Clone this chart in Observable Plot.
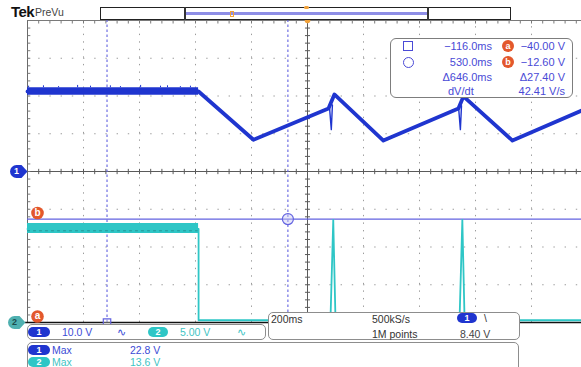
<!DOCTYPE html>
<html>
<head>
<meta charset="utf-8">
<script src="https://cdn.jsdelivr.net/npm/d3@7"></script>
<script src="https://cdn.jsdelivr.net/npm/@observablehq/plot@0.6"></script>
<style>
  html, body { margin: 0; padding: 0; background: #fff; }
  #scope { position: relative; width: 581px; height: 367px; overflow: hidden; background: #fff;
           font-family: "Liberation Sans", Arial, sans-serif; }
  #scope > svg { position: absolute; left: 0; top: 0; overflow: hidden; }
  .abs { position: absolute; white-space: nowrap; line-height: 12px; }
  .box { position: absolute; box-sizing: border-box; border: 1px solid #8d8d8d; border-radius: 5px; background: #fff; }
  .pill { position: absolute; box-sizing: border-box; border-radius: 6px; color: #fff; font-weight: bold;
          font-size: 9px; line-height: 10px; text-align: center; }
</style>
</head>
<body>
<div id="scope"></div>
<script>
// ---------- acquisition data (time in ms, volts) ----------
// Channel 1, 10 V/div: main trace vertices
const ch1Time  = [-400, 211, 407, 675, 696, 871, 1139, 1157, 1332, 1600];
const ch1Volts = [21.2, 21.2, 8.4, 16.7, 20.4, 8.2, 16.7, 19.9, 8.2, 16.8];
// narrow negative glitches just before each peak
const ch1GlitchTime  = [679, 685, 689, 1140, 1146, 1150];
const ch1GlitchVolts = [16.6, 11.1, 17.6, 16.6, 11.1, 17.4];
const ch1GlitchId    = [1, 1, 1, 2, 2, 2];
// noise envelope of the flat section
const ch1BandTime = [-400, 211];
const ch1BandLow  = [20.2, 20.2];
const ch1BandHigh = [22.2, 22.2];
// tallest noise excursions on the flat section
const ch1NoiseTime = [-396, -343, -289, -221, -175, -104, -68, 4, 75, 100, 146, 182];
const ch1NoisePeak = [22.6, 22.7, 22.5, 22.8, 22.6, 22.7, 22.5, 22.8, 22.6, 22.7, 22.5, 22.6];

// Channel 2, 5 V/div
const ch2Time  = [-400, 211, 211, 682, 692, 700, 1143, 1153, 1161, 1600];
const ch2Volts = [12.4, 12.4, 0.3, 0.3, 13.6, 0.3, 0.3, 13.6, 0.3, 0.3];
const ch2BandTime = [-400, 211];
const ch2BandLow  = [11.8, 11.8];
const ch2BandHigh = [13.1, 13.1];

// cursors: square / circle (time), a / b (channel 1 volts)
const cursorTime  = [-116, 530];
const cursorVolts = [-40, -12.6];
const cursorNames = ["a", "b"];

// vertical settings
const ch1VoltsPerDiv = 10;
const ch2VoltsPerDiv = 5;
const ch1GroundDiv = 0;
const ch2GroundDiv = -4;
const ch1ScaleText = "10.0 V";
const ch2ScaleText = "5.00 V";
// horizontal / trigger settings
const timebaseText = "200ms";
const sampleRateText = "500kS/s";
const recordText = "1M points";
const triggerLevelText = "8.40 V";
const timeDomain = [-400, 1600];
const centerTime = 600;

// ---------- colours ----------
const ch1Color = "#1f35cf";
const ch2Color = "#2ec6c6";
const cursorColor = "#6262e0";
const markerOrange = "#e3582c";
const readoutColor = "#4a4ad6";

const toDiv1 = v => v / ch1VoltsPerDiv + ch1GroundDiv;
const toDiv2 = v => v / ch2VoltsPerDiv + ch2GroundDiv;
const zip = (keys, ...cols) => cols[0].map((_, i) => Object.fromEntries(keys.map((k, j) => [k, cols[j][i]])));

const ch1 = zip(["t", "v"], ch1Time, ch1Volts);
const ch1Glitch = zip(["t", "v", "id"], ch1GlitchTime, ch1GlitchVolts, ch1GlitchId);
const ch1Band = zip(["t", "lo", "hi"], ch1BandTime, ch1BandLow, ch1BandHigh);
const ch1Noise = zip(["t", "v"], ch1NoiseTime, ch1NoisePeak);
const ch2 = zip(["t", "v"], ch2Time, ch2Volts);
const ch2Band = zip(["t", "lo", "hi"], ch2BandTime, ch2BandLow, ch2BandHigh);
const cursorLabels = zip(["name", "v"], cursorNames, cursorVolts);

// graticule: 10 x 8 divisions, 5 minor steps per division
const divTimes = d3.range(timeDomain[0], timeDomain[1] + 1, 200);
const divLevels = d3.range(-4, 5, 1);
const minorT = d3.range(timeDomain[0], timeDomain[1] + 1, 40);
const minorV = d3.range(-4, 4.001, 0.2);
const t0 = timeDomain[0];

// channel ground marker: rounded tab pointing right
const tab = {
  draw(ctx) {
    ctx.moveTo(-2, -6.5);
    ctx.lineTo(3, -6.5);
    ctx.lineTo(9, 0);
    ctx.lineTo(3, 6.5);
    ctx.lineTo(-2, 6.5);
    ctx.arc(-2, 0, 6.5, Math.PI / 2, 3 * Math.PI / 2);
    ctx.closePath();
  }
};

const chart = Plot.plot({
  width: 581,
  height: 367,
  margin: 0,
  x: {domain: timeDomain, range: [27, 587], axis: null},
  y: {domain: [-4, 4], range: [322, 20], axis: null},
  style: {background: "transparent", fontFamily: "Liberation Sans, Arial, sans-serif"},
  marks: [
    // dotted division lines
    Plot.ruleX(divTimes.filter(t => t !== t0 && t !== centerTime), {
      x: d => d, y1: () => -4, y2: () => 4, stroke: "#9c9c9c", strokeWidth: 1, strokeDasharray: "1.4,6.15"
    }),
    Plot.ruleY(divLevels.filter(v => Math.abs(v) !== 4 && v !== 0), {
      y: d => d, x1: () => t0, x2: () => timeDomain[1], stroke: "#9c9c9c", strokeWidth: 1.1, strokeDasharray: "1.4,9.8"
    }),
    // centre crosshair with minor ticks
    Plot.ruleX([centerTime], {x: d => d, y1: () => -4, y2: () => 4, stroke: "#5a5a5a"}),
    Plot.ruleY([0], {y: d => d, x1: () => t0, x2: () => timeDomain[1], stroke: "#5a5a5a"}),
    Plot.link(minorT, {x1: d => d, x2: d => d, y1: () => -0.07, y2: () => 0.07, stroke: "#5a5a5a"}),
    Plot.link(minorV, {x1: () => centerTime - 9, x2: () => centerTime + 9, y1: d => d, y2: d => d, stroke: "#5a5a5a"}),
    // top and left borders
    Plot.ruleY([4], {y: d => d, x1: () => t0, x2: () => timeDomain[1], stroke: "#7a7a7a"}),
    Plot.link(minorT, {x1: d => d, x2: d => d, y1: () => 4, y2: () => 3.92, stroke: "#7a7a7a"}),
    Plot.ruleX([t0], {x: d => d, y1: () => -4, y2: () => 4, stroke: "#6a6a6a"}),
    Plot.link(minorV, {x1: () => t0, x2: () => t0 + 10, y1: d => d, y2: d => d, stroke: "#7a7a7a"}),
    // cursors
    Plot.ruleX(cursorTime, {x: d => d, y1: () => -4, y2: () => 4, stroke: cursorColor, strokeWidth: 1.1, strokeDasharray: "2.5,2.5"}),
    Plot.ruleY(cursorVolts, {y: d => toDiv1(d), x1: () => t0, x2: () => timeDomain[1], stroke: cursorColor, strokeWidth: 1.2}),
    // bottom edge
    Plot.ruleY([-4], {y: d => d, x1: () => t0 - 7, x2: () => timeDomain[1], stroke: "#111", strokeWidth: 1.6}),
    // channel 2
    Plot.areaY(ch2Band, {x: "t", y1: d => toDiv2(d.lo), y2: d => toDiv2(d.hi), fill: ch2Color}),
    Plot.line(ch2Band, {x: "t", y: d => toDiv2((d.lo + d.hi) / 2 - 0.3), stroke: "#1d6d6d", strokeOpacity: 0.55, strokeWidth: 1, strokeDasharray: "2,4"}),
    Plot.line(ch2, {x: "t", y: d => toDiv2(d.v), stroke: ch2Color, strokeWidth: 1.8, strokeLinejoin: "round"}),
    // channel 1
    Plot.areaY(ch1Band, {x: "t", y1: d => toDiv1(d.lo), y2: d => toDiv1(d.hi), fill: ch1Color}),
    Plot.ruleX(ch1Noise, {x: "t", y1: () => toDiv1(ch1BandHigh[0]), y2: d => toDiv1(d.v), stroke: ch1Color, strokeWidth: 1}),
    Plot.line(ch1, {x: "t", y: d => toDiv1(d.v), stroke: ch1Color, strokeWidth: 3.8}),
    Plot.line(ch1Glitch, {x: "t", y: d => toDiv1(d.v), z: "id", stroke: ch1Color, strokeWidth: 1.4}),
    // cursor intersection markers
    Plot.dot([0], {x: () => cursorTime[0], y: () => toDiv1(cursorVolts[0]), symbol: "square", r: 4.2, stroke: cursorColor, fill: "#fff", fillOpacity: 0.3, strokeWidth: 1.2}),
    Plot.dot([0], {x: () => cursorTime[1], y: () => toDiv1(cursorVolts[1]), r: 5.5, stroke: cursorColor, fill: "#c9c9f3", fillOpacity: 0.45, strokeWidth: 1.2}),
    // cursor a / b tags
    Plot.dot(cursorLabels, {x: () => t0, y: d => toDiv1(d.v), dx: 10, dy: -6, r: 6.3, fill: markerOrange}),
    Plot.text(cursorLabels, {x: () => t0, y: d => toDiv1(d.v), dx: 10, dy: -6.5, text: "name", fill: "#fff", fontWeight: "bold", fontSize: 10}),
    // channel ground tabs
    Plot.dot([0], {x: () => t0, y: () => ch1GroundDiv, dx: -9, symbol: tab, fill: ch1Color}),
    Plot.text(["1"], {x: () => t0, y: () => ch1GroundDiv, dx: -11, text: d => d, fill: "#fff", fontWeight: "bold", fontSize: 9}),
    Plot.dot([0], {x: () => t0, y: () => ch2GroundDiv, dx: -11, symbol: tab, fill: "#4fb0b0"}),
    Plot.text(["2"], {x: () => t0, y: () => ch2GroundDiv, dx: -13, text: d => d, fill: "#1c4d4d", fontWeight: "bold", fontSize: 9}),
    // trigger position
    Plot.dot([centerTime], {x: d => d, y: () => 4, r: 2.8, fill: "#f2a23a"})
  ]
});

const root = document.getElementById("scope");
root.appendChild(chart);

function el(cls, left, top, css = "", text = "") {
  const d = document.createElement("div");
  d.className = cls;
  d.style.cssText = `left:${left}px;top:${top}px;${css}`;
  d.textContent = text;
  root.appendChild(d);
  return d;
}
const fmt = (v, digits) => (v < 0 ? "\u2212" : "") + Math.abs(v).toFixed(digits);

// header
el("abs", 11, 4, "font:bold 15px 'Liberation Sans',Arial;color:#111;letter-spacing:-0.6px;line-height:16px", "Tek");
el("abs", 35, 6, "font:10.5px 'Liberation Sans',Arial;color:#444;line-height:13px", "PreVu");
// record view bar
el("box", 100, 7, "width:411px;height:13px;border-radius:0;border-color:#222");
el("abs", 184, 7, "width:245px;height:13px;box-sizing:border-box;border-left:2px solid #333;border-right:2px solid #333");
el("abs", 186, 12, "width:241px;height:3px;background:#8e8ee6");
el("abs", 230, 11, "width:4px;height:6px;box-sizing:border-box;border:1.5px solid #f2a23a");
el("abs", 304, 6, "width:5px;height:3px;background:#f2a23a;border-radius:2px");

// cursor readout
const dt = cursorTime[1] - cursorTime[0];
const dv = cursorVolts[1] - cursorVolts[0];
const slope = dv / (dt / 1000);
el("box", 390, 38, "width:183px;height:60px;border-radius:6px;border-color:#7d7d7d");
const rf = `font:11px 'Liberation Sans',Arial;color:${readoutColor}`;
const rowTop = [40, 56, 71, 85];
el("abs", 403, 41, `width:10px;height:10px;box-sizing:border-box;border:1.3px solid ${readoutColor}`);
el("abs", 403, 57, `width:11px;height:11px;box-sizing:border-box;border:1.3px solid ${readoutColor};border-radius:50%`);
[0, 1].forEach(i => {
  el("abs", 0, rowTop[i], `${rf};left:auto;right:89px`, fmt(cursorTime[i], 1) + "ms");
  el("abs", 502, rowTop[i], `width:12px;height:12px;border-radius:50%;background:${markerOrange};color:#fff;font:bold 9px 'Liberation Sans',Arial;line-height:12px;text-align:center`, cursorNames[i]);
  el("abs", 0, rowTop[i], `${rf};left:auto;right:16px`, fmt(cursorVolts[i], 2) + " V");
});
el("abs", 0, rowTop[2], `${rf};left:auto;right:89px`, "\u0394" + fmt(dt, 1) + "ms");
el("abs", 0, rowTop[2], `${rf};left:auto;right:16px`, "\u0394" + fmt(dv, 2) + " V");
el("abs", 448, rowTop[3], rf, "dV/dt");
el("abs", 0, rowTop[3], `${rf};left:auto;right:16px`, fmt(slope, 2) + " V/s");

// vertical settings bar
const bf = "font:10.5px 'Liberation Sans',Arial";
el("box", 27, 324, "width:239px;height:16px");
el("pill", 28, 327, `width:22px;height:10px;background:${ch1Color}`, "1");
el("abs", 62, 326, `${bf};color:#3b4bd6`, ch1ScaleText);
el("abs", 117, 326, `${bf};color:#3b4bd6`, "\u223F");
el("pill", 148, 327, `width:20px;height:10px;background:${ch2Color}`, "2");
el("abs", 180, 326, `${bf};color:#3fc4c4`, ch2ScaleText);
el("abs", 237, 326, `${bf};color:#3fc4c4`, "\u223F");

// measurement box
const ch1Max = d3.max([...ch1Volts, ...ch1BandHigh, ...ch1NoisePeak]);
const ch2Max = d3.max([...ch2Volts, ...ch2BandHigh]);
el("box", 27, 342, "width:492px;height:32px");
el("pill", 28, 345, `width:22px;height:10px;background:${ch1Color}`, "1");
el("abs", 52, 344, `${bf};color:#3b4bd6`, "Max");
el("abs", 130, 344, `${bf};color:#3b4bd6`, ch1Max.toFixed(1) + " V");
el("pill", 28, 357, `width:22px;height:10px;background:${ch2Color}`, "2");
el("abs", 52, 356, `${bf};color:#3fc4c4`, "Max");
el("abs", 130, 356, `${bf};color:#3fc4c4`, ch2Max.toFixed(1) + " V");

// horizontal / trigger box
el("box", 268, 312, "width:252px;height:28px");
el("abs", 271, 313, `${bf};color:#333`, timebaseText);
el("abs", 372, 313, `${bf};color:#333`, sampleRateText);
el("abs", 372, 328, `${bf};color:#333`, recordText);
el("pill", 457, 313, `width:20px;height:10px;background:${ch1Color}`, "1");
el("abs", 484, 312, `${bf};color:#333`, "\\");
el("abs", 460, 328, `${bf};color:#444`, triggerLevelText);
</script>
</body>
</html>
